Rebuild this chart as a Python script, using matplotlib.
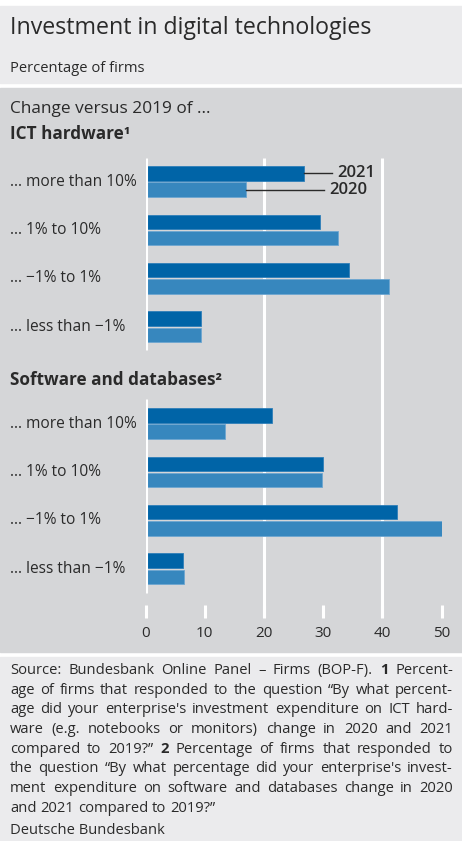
import matplotlib
matplotlib.use("Agg")
import matplotlib.pyplot as plt
from matplotlib.patches import Rectangle
import matplotlib.transforms as mtransforms

plt.rcParams["font.family"] = ["Open Sans", "DejaVu Sans"]

# ---- data ---------------------------------------------------------------
categories = ["... more than 10%", "... 1% to 10%",
              "... \u22121% to 1%", "... less than \u22121%"]
ict_2021 = [26.8, 29.4, 34.4, 9.4]
ict_2020 = [17.0, 32.5, 41.1, 9.4]
sw_2021 = [21.3, 29.9, 42.5, 6.4]
sw_2020 = [13.4, 29.8, 50.3, 6.5]
xticks = [0, 10, 20, 30, 40, 50]
series_names = ["2021", "2020"]

# ---- style --------------------------------------------------------------
W, H = 462, 841
DARK = "#0064a7"
LIGHT = "#3787be"
PANEL = "#d5d6d8"
PALE = "#ebebed"
TXT = "#2a2a2a"

fig = plt.figure(figsize=(W / 100, H / 100), dpi=100)
fig.patch.set_facecolor("white")


def fy(y):
    """pixel row (from top) -> figure fraction"""
    return 1 - y / H


def fx(x):
    return x / W


def panel(y0, y1, color):
    fig.patches.append(Rectangle((0, fy(y1)), 1, (y1 - y0) / H,
                                 transform=fig.transFigure, color=color,
                                 zorder=-10))


panel(6, 83, PALE)
panel(88, 652, PANEL)
panel(657, H, PALE)

# ---- headings -----------------------------------------------------------
fig.text(fx(10), fy(34), "Investment in digital technologies", fontsize=16.7,
         color=TXT, va="baseline")
fig.text(fx(10), fy(72), "Percentage of firms", fontsize=10.6,
         color=TXT, va="baseline")
fig.text(fx(10), fy(113), "Change versus 2019 of ...", fontsize=12.4,
         color=TXT, va="baseline")
fig.text(fx(10), fy(139), "ICT hardware\u00b9", fontsize=12.3,
         fontweight="bold", color=TXT, va="baseline")
fig.text(fx(10), fy(385), "Software and databases\u00b2", fontsize=12.3,
         fontweight="bold", color=TXT, va="baseline")

# ---- bar axes -----------------------------------------------------------
x0_px, x1_px = 145.5, 441.7
top_px, bot_px = 158, 618
slot0_px, slot_px = 181.5, 48.4

ax = fig.add_axes([fx(x0_px), fy(bot_px), (x1_px - x0_px) / W,
                   (bot_px - top_px) / H])
ax.set_facecolor("none")
for s in ax.spines.values():
    s.set_visible(False)
ax.set_xlim(0, 50)
ax.set_ylim((bot_px - slot0_px) / slot_px, (top_px - slot0_px) / slot_px)
ymin, ymax = ax.get_ylim()[1], ax.get_ylim()[0]

ict_slots = [0, 1, 2, 3]
sw_slots = [5, 6, 7, 8]
bar_h = 0.30
off = 0.167

for slots, v21, v20 in ((ict_slots, ict_2021, ict_2020),
                        (sw_slots, sw_2021, sw_2020)):
    ax.barh([s - off for s in slots], v21, height=bar_h, color=DARK,
            edgecolor="#2f7fb9", linewidth=0.6, zorder=3)
    ax.barh([s + off for s in slots], v20, height=bar_h, color=LIGHT,
            edgecolor="#6ea6d0", linewidth=0.6, zorder=3)
    for s, c in zip(slots, categories):
        fig.text(fx(10), s, c, fontsize=11.2, color=TXT, va="center",
                 transform=mtransforms.blended_transform_factory(
                     fig.transFigure, ax.transData))

# gridlines at 20 and 40, zero line per panel
for g in (20, 40):
    ax.plot([g, g], [ymin, ymax], color="white", lw=2.2, zorder=1,
            solid_capstyle="butt")
ax.plot([0, 0], [ymin, 3.48], color="white", lw=2.2, zorder=4,
        solid_capstyle="butt")
ax.plot([0, 0], [4.49, 8.5], color="white", lw=2.2, zorder=4,
        solid_capstyle="butt")

ax.set_yticks([])
ax.set_xticks(xticks)
ax.set_xticklabels([str(t) for t in xticks])
ax.tick_params(axis="x", direction="in", length=9.4, width=2.2,
               color="white", labelsize=11, labelcolor=TXT, pad=6)

# series callouts
lbl_x = {"2021": 32.3, "2020": 31.0}
line_end = {"2021": 31.5, "2020": 30.1}
for name, vals, dy in (("2021", ict_2021, -off), ("2020", ict_2020, off)):
    y = ict_slots[0] + dy
    ax.plot([vals[0], line_end[name]], [y, y], color=TXT, lw=1.0, zorder=5)
    ax.text(lbl_x[name], y, name, fontsize=12, fontweight="semibold",
            color=TXT, va="center", ha="left", zorder=5)

# ---- justified footnote -------------------------------------------------
foot_lines = [
    [("Source:", 0), ("Bundesbank", 0), ("Online", 0), ("Panel", 0),
     ("\u2013", 0), ("Firms", 0), ("(BOP-F).", 0), ("1", 1), ("Percent-", 0)],
    "age of firms that responded to the question \u201cBy what percent-",
    "age did your enterprise's investment expenditure on ICT hard-",
    "ware (e.g. notebooks or monitors) change in 2020 and 2021",
    [("compared", 0), ("to", 0), ("2019?\u201d", 0), ("2", 1),
     ("Percentage", 0), ("of", 0), ("firms", 0), ("that", 0),
     ("responded", 0), ("to", 0)],
    "the question \u201cBy what percentage did your enterprise's invest-",
    "ment expenditure on software and databases change in 2020",
    "and 2021 compared to 2019?\u201d",
]
left_px, right_px = 10, 453
base0, step = 674, 19.7
fs_foot = 10.6
renderer = fig.canvas.get_renderer()

# width of a normal word space at the footnote size
_probe = fig.text(0, 0, "a", fontsize=fs_foot)
_probe2 = fig.text(0, 0, "a a", fontsize=fs_foot)
space_w = (_probe2.get_window_extent(renderer).width
           - 2 * _probe.get_window_extent(renderer).width)
_probe.remove()
_probe2.remove()

for i, line in enumerate(foot_lines):
    if isinstance(line, str):
        tokens = [(w, 0) for w in line.split(" ")]
    else:
        tokens = line
    base = base0 + i * step
    objs = []
    for w, b in tokens:
        t = fig.text(0, fy(base), w, fontsize=fs_foot, color=TXT,
                     va="baseline", fontweight="bold" if b else "normal")
        objs.append(t)
    widths = [o.get_window_extent(renderer).width for o in objs]
    if i == len(foot_lines) - 1:
        gap = space_w
    else:
        gap = (right_px - left_px - sum(widths)) / (len(objs) - 1)
    x = left_px
    for o, wd in zip(objs, widths):
        o.set_x(fx(x))
        x += wd + gap

fig.text(fx(10), fy(834), "Deutsche Bundesbank", fontsize=fs_foot,
         color=TXT, va="baseline")

fig.savefig("out.png", dpi=100)
